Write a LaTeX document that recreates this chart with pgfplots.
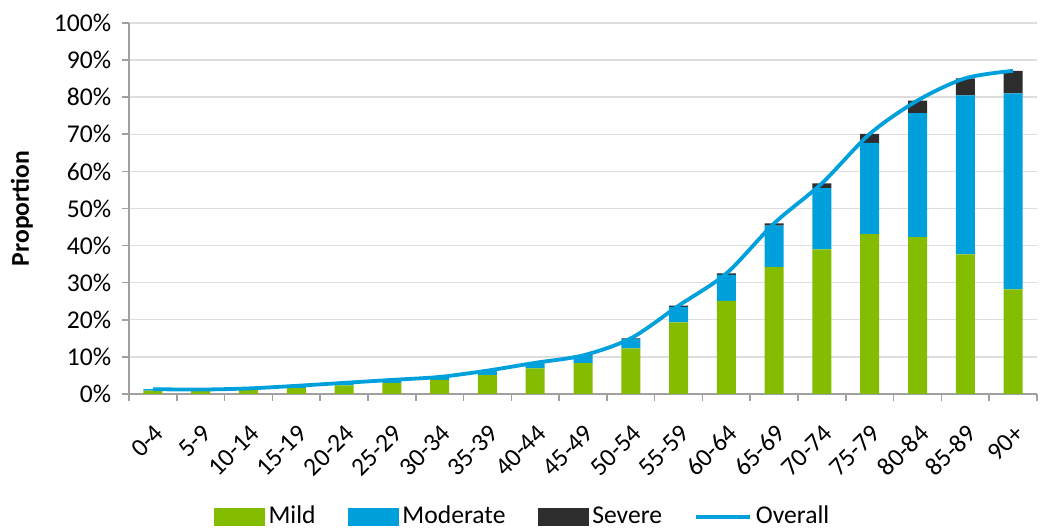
\documentclass[border=0pt]{standalone}
\usepackage{pgfplots}
\pgfplotsset{compat=1.18}
\usepackage{fontspec}
\setmainfont{Carlito}
\definecolor{mild}{RGB}{132,189,0}
\definecolor{moder}{RGB}{0,160,220}
\definecolor{sev}{RGB}{45,45,45}
\definecolor{gridc}{RGB}{222,222,222}
\definecolor{axc}{RGB}{160,160,160}

\pgfplotstableread{
x mild moderate severe overall
0  0.9  0.4 0.0  1.3
1  0.8  0.4 0.0  1.2
2  1.1  0.4 0.0  1.5
3  1.6  0.6 0.0  2.2
4  2.3  0.7 0.0  3.0
5  3.0  0.8 0.0  3.8
6  3.8  0.8 0.0  4.6
7  5.1  1.2 0.0  6.3
8  6.9  1.5 0.0  8.4
9  8.3  2.0 0.1 10.4
10 12.3 2.5 0.2 15.0
11 19.3 4.2 0.3 23.8
12 25.1 7.0 0.4 32.5
13 34.2 11.2 0.6 46.0
14 39.0 16.5 1.3 56.8
15 43.1 24.6 2.4 70.1
16 42.3 33.4 3.4 79.1
17 37.6 42.9 4.6 85.1
18 28.2 52.8 6.1 87.1
}\datatable

\begin{document}
\fontsize{12.8}{15}\selectfont
\begin{tikzpicture}
\path[use as bounding box] (-64.5pt,-67pt) rectangle (456.5pt,197pt);
\begin{axis}[
  at={(0,0)}, anchor=south west,
  width=454pt, height=185.5pt, scale only axis,
  xmin=-0.5, xmax=18.5, ymin=0, ymax=100,
  ybar stacked, bar width=9.5pt,
  axis lines*=left,
  axis line style={axc, line width=0.8pt},
  xtick={0,...,18},
  xticklabels={0-4,5-9,10-14,15-19,20-24,25-29,30-34,35-39,40-44,45-49,50-54,55-59,60-64,65-69,70-74,75-79,80-84,85-89,90+},
  major x tick style={draw=none},
  minor xtick={-0.5,0.5,...,18.5},
  minor x tick style={axc, line width=0.8pt},
  minor tick length=3.5pt,
  ytick={0,10,...,100},
  major y tick style={axc, line width=0.8pt},
  major tick length=3.5pt,
  tick align=outside,
  tick pos=left,
  yticklabel={\pgfmathprintnumber{\tick}\%},
  /pgf/number format/assume math mode=true,
  ymajorgrids, grid style={gridc, line width=0.7pt},
  xticklabel style={rotate=45, anchor=north east, inner sep=1pt, yshift=-6.8pt, xshift=-6.6pt},
  yticklabel style={xshift=-1pt},
  ylabel={\bfseries Proportion},
  ylabel style={at={(axis description cs:-0.118,0.5)}, anchor=center},
  font=\fontsize{12.8}{15}\selectfont,
]
\addplot[fill=mild, draw=none] table[x=x, y=mild] {\datatable};
\addplot[fill=moder, draw=none] table[x=x, y=moderate] {\datatable};
\addplot[fill=sev, draw=none] table[x=x, y=severe] {\datatable};
\end{axis}
\begin{axis}[
  at={(0,0)}, anchor=south west,
  width=454pt, height=185.5pt, scale only axis,
  xmin=-0.5, xmax=18.5, ymin=0, ymax=100,
  hide axis,
  font=\fontsize{12.8}{15}\selectfont,
  legend style={at={(0.4345,-0.3315)}, anchor=center, draw=none, fill=none,
    legend columns=-1, font=\fontsize{12.8}{15}\selectfont,
    /tikz/every even column/.append style={column sep=14pt}},
]
\addlegendimage{legend image code/.code={\fill[mild] (0pt,-4.25pt) rectangle (25pt,4.25pt);}}
\addlegendentry{Mild}
\addlegendimage{legend image code/.code={\fill[moder] (0pt,-4.25pt) rectangle (25pt,4.25pt);}}
\addlegendentry{Moderate}
\addlegendimage{legend image code/.code={\fill[sev] (0pt,-4.25pt) rectangle (25pt,4.25pt);}}
\addlegendentry{Severe}
\addplot[moder, line width=1.9pt, smooth, mark=none,
  legend image code/.code={\draw[moder, line width=1.9pt] (0pt,0pt) -- (27pt,0pt);}]
  table[x=x, y=overall] {\datatable};
\addlegendentry{Overall}
\end{axis}
\end{tikzpicture}
\end{document}
